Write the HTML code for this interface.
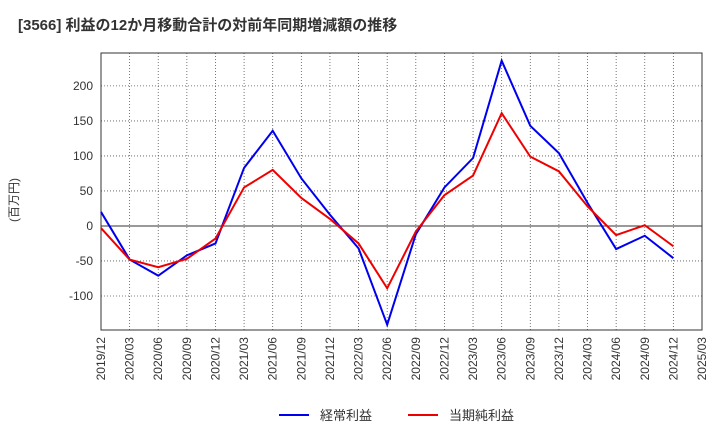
<!DOCTYPE html>
<html><head><meta charset="utf-8"><style>
body{margin:0;background:#fff;font-family:"Liberation Sans","Noto Sans CJK JP",sans-serif;}
</style></head><body>
<svg id="c" width="720" height="440" xmlns="http://www.w3.org/2000/svg" font-family="Liberation Sans, Noto Sans CJK JP, sans-serif">
<text x="18" y="30" font-size="15" font-weight="bold" fill="#333">[3566]  利益の12か月移動合計の対前年同期増減額の推移</text>
<text transform="translate(18,200) rotate(-90)" font-size="12" fill="#333" text-anchor="middle">(百万円)</text>
<g id="grid"></g><g id="axes"></g><g id="series"></g>
<g>
<line x1="279" y1="415" x2="309" y2="415" stroke="#0000ee" stroke-width="2"/>
<text x="320" y="420" font-size="13" fill="#333">経常利益</text>
<line x1="408" y1="415" x2="438" y2="415" stroke="#ee0000" stroke-width="2"/>
<text x="449" y="420" font-size="13" fill="#333">当期純利益</text>
</g>
</svg>
<script>
const categories=["2019/12","2020/03","2020/06","2020/09","2020/12","2021/03","2021/06","2021/09","2021/12","2022/03","2022/06","2022/09","2022/12","2023/03","2023/06","2023/09","2023/12","2024/03","2024/06","2024/09","2024/12","2025/03"];
const keijo=[20,-48,-71,-42,-25,83,136,68,16,-32,-141,-12,55,97,236,143,104,33,-33,-14,-46];
const junri=[-3,-48,-59,-47,-18,55,80,40,10,-25,-89,-8,44,72,161,99,78,28,-13,1,-29];
const yTicks=[-100,-50,0,50,100,150,200];
const L=101,R=702,T=53,B=330,yMax=247,yMin=-148.6;
const x=i=>L+i*(R-L)/(categories.length-1);
const y=v=>T+(yMax-v)/(yMax-yMin)*(B-T);
const NS="http://www.w3.org/2000/svg";
function mk(p,t,a){const e=document.createElementNS(NS,t);for(const k in a)e.setAttribute(k,a[k]);p.appendChild(e);return e;}
const g=document.getElementById('grid'),ax=document.getElementById('axes'),s=document.getElementById('series');
categories.forEach((c,i)=>{
 const l=mk(g,'line',{x1:x(i),x2:x(i),y1:T,y2:B,stroke:'#555','stroke-dasharray':'1,2','stroke-width':0.8});
 
 
 const t=mk(ax,'text',{transform:`translate(${x(i)+4},${B+7}) rotate(-90)`,'font-size':12,fill:'#333','text-anchor':'end'});
 t.textContent=c;
 
 
});
yTicks.forEach(v=>{
 const l=mk(g,'line',{x1:L,x2:R,y1:y(v),y2:y(v),stroke:v===0?'#333':'#555','stroke-dasharray':v===0?'':'1,2','stroke-width':v===0?1:0.8});
 
 
 const t=mk(ax,'text',{x:L-8,y:y(v)+4,'font-size':12,fill:'#333','text-anchor':'end'});
 t.textContent=v;
 
 
});
const fr=mk(ax,'rect',{x:L,y:T,width:R-L,height:B-T,fill:'none',stroke:'#333','stroke-width':1});


function line(d,col,name){
 const p=mk(s,'polyline',{points:d.map((v,i)=>x(i)+','+y(v)).join(' '),fill:'none',stroke:col,'stroke-width':2});
 
 
}
line(keijo,'#0000ee','series-keijo-line');
line(junri,'#ee0000','series-junri-line');
</script>
</body></html>
